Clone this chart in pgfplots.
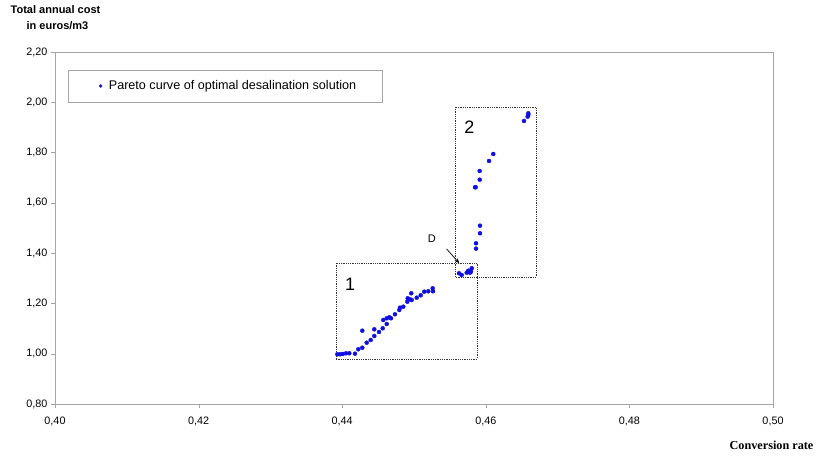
\documentclass[border=0pt]{standalone}
\usepackage{fontspec}
\setmainfont{Liberation Sans}
\newfontfamily\timesfont{Liberation Serif}
\usepackage{pgfplots}
\pgfplotsset{compat=1.18}
\usetikzlibrary{arrows.meta}

\definecolor{ptblue}{RGB}{15,15,225}
\definecolor{axgray}{RGB}{165,165,165}

\begin{document}
\begin{tikzpicture}
\path[use as bounding box] (0,0) rectangle (817pt,457pt);
\begin{axis}[
    at={(55pt,53pt)}, anchor=south west,
    scale only axis, width=718pt, height=352pt,
    xmin=0.40, xmax=0.50, ymin=0.80, ymax=2.20,
    xtick={0.40,0.42,0.44,0.46,0.48,0.50},
    ytick={0.80,1.00,1.20,1.40,1.60,1.80,2.00,2.20},
    scaled ticks=false,
    axis line style={axgray},
    tick style={axgray},
    tick align=outside, major tick length=4pt,
    xtick pos=left, ytick pos=left,
    ticklabel style={font=\fontsize{10.8}{13}\selectfont},
    /pgf/number format/.cd, fixed, fixed zerofill, precision=2, use comma, assume math mode=true,
    /pgfplots/.cd,
    xticklabel style={yshift=-5pt},
    legend style={at={(axis description cs:0.0185,0.9489)}, anchor=north west,
        draw=axgray, inner xsep=10pt, inner ysep=8.5pt,
        font=\fontsize{12.6}{15}\selectfont},
    legend image code/.code={\path (0pt,0pt) (28pt,0pt); \fill[ptblue] (22pt,0pt) circle (1.5pt);},
]
\addplot[only marks, mark=*, mark size=2pt, color=ptblue] coordinates {
    (0.43932,0.9977) (0.43969,0.9977) (0.44007,0.9989) (0.44053,1.0017)
    (0.44099,1.0017) (0.44178,1.0001) (0.44224,1.0176) (0.44280,1.0239)
    (0.44280,1.0916) (0.44341,1.0438) (0.44397,1.0546) (0.44447,1.0705)
    (0.44447,1.0971) (0.44513,1.0864) (0.44564,1.1011) (0.44572,1.1341)
    (0.44620,1.1182) (0.44620,1.1409) (0.44656,1.1449) (0.44680,1.1409)
    (0.44735,1.1568) (0.44795,1.1739) (0.44805,1.1831) (0.44851,1.1870)
    (0.44907,1.2069) (0.44912,1.2205) (0.44944,1.2165) (0.44962,1.2403)
    (0.44968,1.2137) (0.45038,1.2228) (0.45093,1.2324) (0.45143,1.2467)
    (0.45199,1.2483) (0.45260,1.2602) (0.45265,1.2483)
    (0.45627,1.3199) (0.45664,1.3131) (0.45734,1.3223) (0.45756,1.3302)
    (0.45794,1.3262) (0.45804,1.3398) (0.45780,1.3223)
    (0.45864,1.4178) (0.45864,1.4392) (0.45919,1.4790) (0.45919,1.5092)
    (0.45850,1.6620) (0.45859,1.6620) (0.45915,1.6922) (0.45915,1.7268)
    (0.46045,1.7666) (0.46104,1.7944)
    (0.46532,1.9257) (0.46583,1.9428) (0.46592,1.9495) (0.46592,1.9563)
};
\addlegendentry{Pareto curve of optimal desalination solution\hspace*{14pt}}
% zone boxes
\draw[black!80, densely dotted, line width=0.8pt] (axis cs:0.43914,0.979) rectangle (axis cs:0.45877,1.3609);
\draw[black!80, densely dotted, line width=0.8pt] (axis cs:0.45571,1.3052) rectangle (axis cs:0.46699,1.9814);
\node[font=\fontsize{18}{21}\selectfont] at (axis cs:0.44109,1.2773) {1};
\node[font=\fontsize{18}{21}\selectfont] at (axis cs:0.45770,1.8991) {2};
\draw[black, line width=0.7pt, -{Stealth[length=5pt,width=4pt]}] (axis cs:0.45455,1.4166) -- (axis cs:0.45631,1.3597);
\node[font=\fontsize{11}{13}\selectfont] at (axis cs:0.45247,1.4591) {D};
\end{axis}
\node[font=\bfseries\fontsize{11}{13}\selectfont] at (55.5pt,447pt) {Total annual cost};
\node[font=\bfseries\fontsize{11}{13}\selectfont] at (57.5pt,431pt) {in euros/m3};
\node[font=\timesfont\bfseries\fontsize{12.2}{14}\selectfont] at (771.5pt,11.3pt) {Conversion rate};
\end{tikzpicture}
\end{document}
